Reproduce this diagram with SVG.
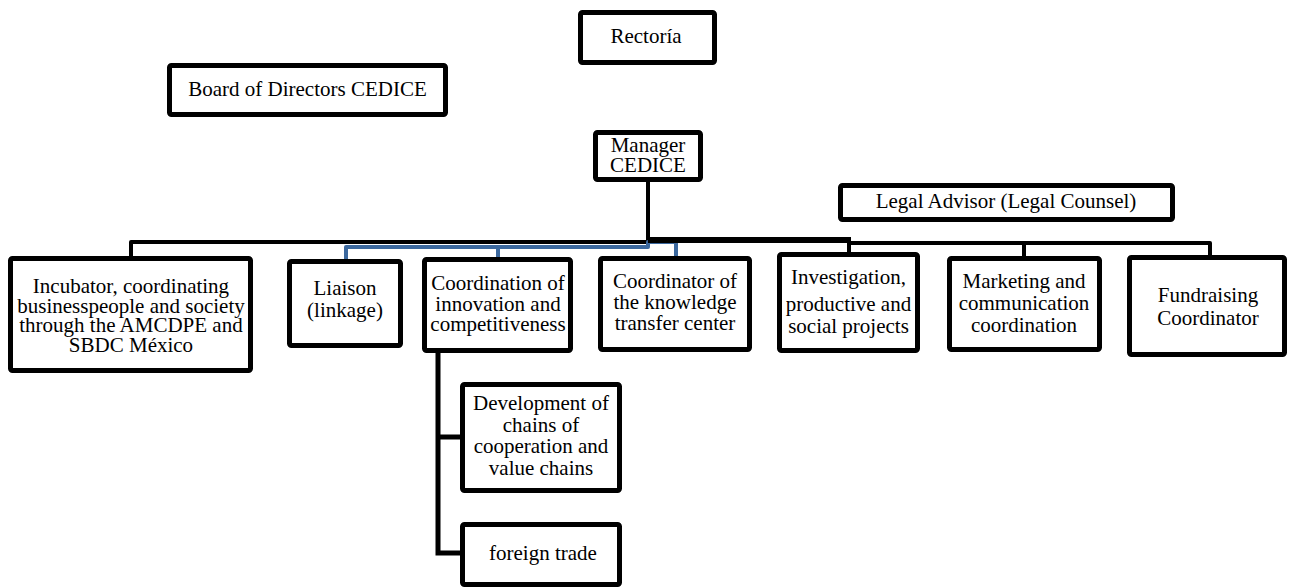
<svg xmlns="http://www.w3.org/2000/svg" width="1290" height="587" viewBox="0 0 1290 587">
<style>
.box{fill:#fff;stroke:#000;stroke-width:5;stroke-linejoin:round}
text{font-family:"Liberation Serif","Times New Roman",serif;font-size:21px;fill:#000;text-anchor:middle}
.k{fill:none;stroke:#000;stroke-width:4;stroke-linejoin:round}
.kt{fill:none;stroke:#000;stroke-width:6;stroke-linejoin:round}
.b{fill:none;stroke:#3b689e;stroke-width:4;stroke-linejoin:round}
.s{fill:none;stroke:#000;stroke-width:5;stroke-linejoin:miter}
</style>
<rect width="1290" height="587" fill="#fff"/>
<g id="connectors">
<path class="k" d="M648,182 V242 H131 V258"/>
<path class="b" d="M346,261 V247 H648 V242 H676 V258"/>
<path class="b" d="M498,247 V259"/>
<path class="kt" d="M648,240 H851"/>
<path class="k" d="M849,254 V243 H1210 V257"/>
<path class="k" d="M1024,243 V258"/>
<path class="s" d="M438,351 V553 H462 M438,437 H462"/>
</g>
<g id="rectoria"><rect class="box" x="580.5" y="12.5" width="134" height="50" rx="2"/><text x="646" y="43">Rectoría</text></g>
<g id="board"><rect class="box" x="169.5" y="65.5" width="276" height="49" rx="2"/><text x="307.5" y="96">Board of Directors CEDICE</text></g>
<g id="manager"><rect class="box" x="595.5" y="132.5" width="105" height="47" rx="2"/><text x="648" y="152">Manager</text><text x="648" y="172">CEDICE</text></g>
<g id="legal"><rect class="box" x="840.5" y="185.5" width="332" height="34" rx="2"/><text x="1006" y="208">Legal Advisor (Legal Counsel)</text></g>
<g id="incubator"><rect class="box" x="10.5" y="258.5" width="240" height="112" rx="2"/><text x="131" y="293">Incubator, coordinating</text><text x="131" y="313">businesspeople and society</text><text x="131" y="332">through the AMCDPE and</text><text x="131" y="352">SBDC México</text></g>
<g id="liaison"><rect class="box" x="289.5" y="261.5" width="111" height="84" rx="2"/><text x="345" y="295">Liaison</text><text x="345" y="317">(linkage)</text></g>
<g id="coordination"><rect class="box" x="424.5" y="259.5" width="146" height="91" rx="2"/><text x="498" y="290">Coordination of</text><text x="498" y="311">innovation and</text><text x="498" y="331">competitiveness</text></g>
<g id="knowledge"><rect class="box" x="600.5" y="258.5" width="149" height="91" rx="2"/><text x="675" y="288">Coordinator of</text><text x="675" y="309">the knowledge</text><text x="675" y="330">transfer center</text></g>
<g id="investigation"><rect class="box" x="779.5" y="254.5" width="138" height="96" rx="2"/><text x="848.5" y="284">Investigation,</text><text x="848.5" y="311">productive and</text><text x="848.5" y="333">social projects</text></g>
<g id="marketing"><rect class="box" x="949.5" y="258.5" width="150" height="91" rx="2"/><text x="1024" y="288">Marketing and</text><text x="1024" y="310">communication</text><text x="1024" y="332">coordination</text></g>
<g id="fundraising"><rect class="box" x="1129.5" y="257.5" width="155" height="97" rx="2"/><text x="1208" y="302">Fundraising</text><text x="1208" y="325">Coordinator</text></g>
<g id="development"><rect class="box" x="462.5" y="384.5" width="157" height="106" rx="2"/><text x="541" y="410">Development of</text><text x="541" y="432">chains of</text><text x="541" y="453">cooperation and</text><text x="541" y="475">value chains</text></g>
<g id="foreign"><rect class="box" x="462.5" y="524.5" width="157" height="60" rx="2"/><text x="543" y="560">foreign trade</text></g>
</svg>
